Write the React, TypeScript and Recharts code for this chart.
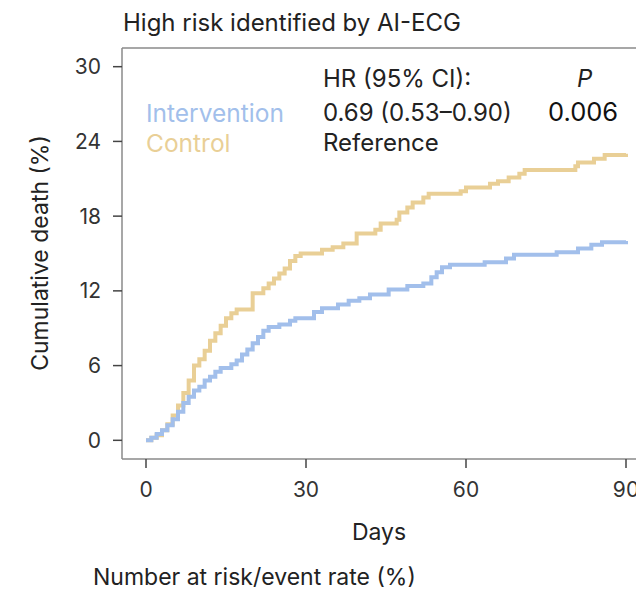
import { LineChart, Line, XAxis, YAxis, ReferenceLine } from "recharts";

// Kaplan–Meier style cumulative death
const interventionDays = [0, 1, 2, 3, 4, 5, 6, 7, 8, 9, 10, 11, 12, 13, 14, 16, 17, 18, 19, 20, 21, 22, 23, 25, 27, 28, 31.5, 33, 36, 38, 40, 42, 45.5, 49, 52, 53.5, 54.5, 55.5, 57, 63.5, 67.5, 69, 77, 81, 83.5, 85.5, 90];
const interventionRisk = [0, 0.2, 0.5, 0.8, 1.2, 1.7, 2.3, 3.0, 3.5, 4.0, 4.3, 4.8, 5.1, 5.5, 5.8, 6.1, 6.4, 6.9, 7.3, 7.8, 8.3, 8.8, 9.1, 9.3, 9.6, 9.8, 10.3, 10.6, 10.9, 11.2, 11.4, 11.7, 12.1, 12.4, 12.6, 13.1, 13.5, 13.9, 14.1, 14.3, 14.6, 14.9, 15.1, 15.4, 15.7, 15.9, 16.0];

const controlDays = [0, 1, 2, 3, 4, 5, 6, 7, 8, 9, 10, 11, 12, 13, 14, 15, 16, 17, 20, 22, 23, 24, 25, 26, 27, 28, 29, 33, 35, 37, 39.5, 43, 44, 47, 47.5, 49, 50, 52, 53, 59, 60, 64.5, 66, 68, 70, 71, 80.5, 81, 84, 86, 90];
const controlRisk = [0, 0.2, 0.4, 0.8, 1.3, 2.0, 2.8, 3.8, 4.8, 6.0, 6.5, 7.2, 8.0, 8.6, 9.2, 9.8, 10.2, 10.5, 11.8, 12.2, 12.6, 13.0, 13.4, 13.8, 14.4, 14.8, 15.0, 15.3, 15.5, 15.8, 16.6, 16.9, 17.4, 17.7, 18.3, 18.7, 19.1, 19.5, 19.8, 20.0, 20.3, 20.6, 20.8, 21.1, 21.4, 21.7, 22.0, 22.3, 22.6, 22.9, 23.0];

const dayTicks = [0, 30, 60, 90];
const deathTicks = [0, 6, 12, 18, 24, 30];

const interventionData = interventionDays.map((day, i) => ({ day, risk: interventionRisk[i] }));
const controlData = controlDays.map((day, i) => ({ day, risk: controlRisk[i] }));

const BLUE = "#a2bfeb";
const GOLD = "#e9cf96";
const FONT = "Inter, 'Noto Sans', sans-serif";

const tickStyle = { fill: "#333", fontSize: 21, fontFamily: FONT };

// small helper for the absolutely placed labels
const txt = (left: number, top: number, size: number, extra: object = {}) => ({
  position: "absolute" as const,
  left,
  top,
  fontSize: size,
  whiteSpace: "nowrap" as const,
  ...extra,
});

export default function App() {
  return (
    <div
      style={{
        position: "absolute",
        left: 0,
        top: 0,
        width: 636,
        height: 591,
        overflow: "hidden",
        background: "#fff",
        fontFamily: FONT,
        color: "#222",
      }}
    >
      <div style={txt(123, 8, 24)}>High risk identified by AI-ECG</div>

      <LineChart width={660} height={591} margin={{ top: 48, right: 10, left: 0, bottom: 0 }}>
        <XAxis
          type="number"
          dataKey="day"
          domain={[-4.5, 94.5]}
          ticks={dayTicks}
          allowDataOverflow
          height={132}
          tickSize={9}
          tickMargin={14}
          axisLine={{ stroke: "#8a8a8a", strokeWidth: 1.5 }}
          tickLine={{ stroke: "#444", strokeWidth: 1.5 }}
          tick={tickStyle}
        />
        <YAxis
          type="number"
          domain={[-1.5, 31.5]}
          ticks={deathTicks}
          allowDataOverflow
          width={122}
          tickSize={9}
          tickMargin={12}
          axisLine={{ stroke: "#8a8a8a", strokeWidth: 1.5 }}
          tickLine={{ stroke: "#444", strokeWidth: 1.5 }}
          tick={tickStyle}
        />
        <ReferenceLine y={31.5} stroke="#8a8a8a" strokeWidth={1.5} ifOverflow="extendDomain" />
        <Line
          data={controlData}
          dataKey="risk"
          type="stepAfter"
          stroke={GOLD}
          strokeWidth={4}
          dot={false}
          isAnimationActive={false}
        />
        <Line
          data={interventionData}
          dataKey="risk"
          type="stepAfter"
          stroke={BLUE}
          strokeWidth={4}
          dot={false}
          isAnimationActive={false}
        />
      </LineChart>

      <div
        style={txt(40, 253, 23, { transform: "translate(-50%, -50%) rotate(-90deg)" })}
      >
        Cumulative death (%)
      </div>

      <div style={txt(323, 64, 24)}>HR (95% CI):</div>
      <div style={txt(577, 64, 24, { fontStyle: "italic" })}>P</div>
      <div style={txt(146, 97.5, 24.5, { color: BLUE })}>Intervention</div>
      <div style={txt(323, 97.5, 24)}>0.69 (0.53–0.90)</div>
      <div style={txt(548, 96, 25.5, { color: "#111" })}>0.006</div>
      <div style={txt(146, 128, 24.5, { color: GOLD })}>Control</div>
      <div style={txt(323, 128, 24)}>Reference</div>

      <div style={txt(379, 532, 23, { transform: "translate(-50%, -50%)" })}>Days</div>
      <div style={txt(93, 562.5, 23)}>Number at risk/event rate (%)</div>
    </div>
  );
}
